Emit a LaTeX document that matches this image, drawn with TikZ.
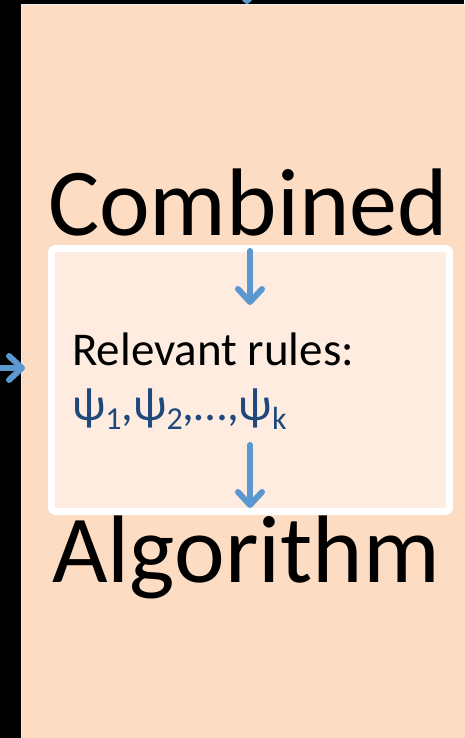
\documentclass[tikz,border=0pt]{standalone}
\usepackage{fontspec}
\setmainfont{Carlito}
\usetikzlibrary{arrows.meta}
\definecolor{peach}{RGB}{252,220,194}
\definecolor{lightpeach}{RGB}{253,236,223}
\definecolor{arrowblue}{RGB}{91,152,208}
\definecolor{psiblue}{RGB}{31,73,125}
\tikzset{
  panel/.style={draw=white!92!black, line width=1pt, fill=peach, minimum width=449pt, minimum height=740pt, inner sep=0pt},
  rulebox/.style={draw=white, line width=7pt, fill=lightpeach, rounded corners=4pt, minimum width=398pt, minimum height=263pt, inner sep=0pt},
  bigword/.style={font=\fontsize{96}{96}\selectfont, text=black, inner sep=0pt, anchor=base},
  rulestext/.style={font=\fontsize{47}{47}\selectfont, inner sep=0pt, anchor=base west},
  flow/.style={draw=arrowblue, line width=6pt, line cap=round, -{Straight Barb[length=13pt,width=24pt,line width=6pt,line join=round,line cap=round]}}
}
\newcommand{\psisub}[1]{\raisebox{-9pt}{\fontsize{32}{32}\selectfont #1}}
\begin{document}
\begin{tikzpicture}[x=1pt,y=1pt]
\useasboundingbox[fill=black] (0,0) rectangle (464,-738);
\node[panel] (panel) at (245.5,-375) {};
\coordinate (topin) at (247,20);
\coordinate (toptip) at (247,-4);
\draw[flow] (topin) -- (toptip);
\coordinate (leftin) at (-6,-368);
\coordinate (lefttip) at (25,-368);
\draw[flow] (leftin) -- (lefttip);
\node[rulebox] (box) at (250.5,-380) {};
\node[bigword] (combined) at (248,-235) {Combined};
\node[bigword] (algorithm) at (246,-582) {Algorithm};
\node[rulestext] (relevant) at (72,-365) {Relevant rules:};
\node[rulestext, text=psiblue] (psis) at (72,-420) {ψ\psisub{1},ψ\psisub{2},…,ψ\psisub{k}};
\coordinate (a1s) at (250,-251);
\coordinate (a1e) at (250,-305);
\draw[flow] (a1s) -- (a1e);
\coordinate (a2s) at (250,-445);
\coordinate (a2e) at (250,-508);
\draw[flow] (a2s) -- (a2e);
\end{tikzpicture}
\end{document}
